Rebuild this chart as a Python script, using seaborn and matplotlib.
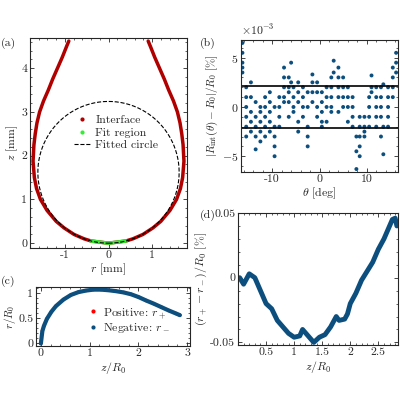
import numpy as np
import pandas as pd
import matplotlib
matplotlib.use("Agg")
import matplotlib.pyplot as plt
from matplotlib.lines import Line2D
from matplotlib.ticker import FormatStrFormatter, ScalarFormatter
import seaborn as sns

# ---- data ----
R0 = 1.62  # fitted circle radius [mm]
prof_z = [0, 0.05, 0.1, 0.2, 0.35, 0.5, 0.75, 1.0, 1.25, 1.5, 1.75, 2.0, 2.25,
          2.5, 2.75, 3.0, 3.25, 3.5, 3.75, 4.0, 4.25, 4.5, 4.62]
prof_r = [0, 0.4, 0.56, 0.79, 1.02, 1.2, 1.41, 1.56, 1.65, 1.7, 1.73, 1.73, 1.71,
          1.68, 1.64, 1.58, 1.49, 1.38, 1.28, 1.17, 1.06, 0.96, 0.91]
fit_rmax = 0.5

b_theta = ([-16.3]*5 + [-15.5]*6 + [-14.5]*5 + [-13.5]*5 + [-12.5]*5 + [-11.5]*5 +
           [-10.5]*5 + [-9.5]*5 + [-8.5]*4 + [-7.5]*5 + [-6.5]*5 + [-6]*2 + [-5.5]*4 +
           [-4.5]*5 + [-3.5]*4 + [-2.5]*5 + [-1.5]*4 + [-0.5]*4 + [0.5]*5 + [1.5]*4 +
           [2.5]*5 + [3]*2 + [4]*5 + [5]*4 + [6]*4 + [7]*4 + [7.8]*3 + [8.5]*5 +
           [9.5]*4 + [10.5]*4 + [11]*3 + [12]*5 + [13]*5 + [13.5]*3 + [14.5]*5 +
           [15.5]*4 + [16.2]*3)
b_val = [6.5, 5.5, 4.5, 4, 3.5,
         2, 1, 0, -1, -2, -3,
         2.5, 1, -0.5, -1.5, -2.5,
         0.5, -1, -2, -3, -4.3,
         -0.5, -1.5, -2.5, -3.5, 0,
         1, 0, -1, -2, -3,
         1.5, 0.5, -0.5, -1.5, -2.5,
         0, -2, -3, -4, -5,
         1, 0, -1, -2,
         4, 3, 2, 1, 0.5,
         3, 2, 1.5, 0.5, -1,
         4.5, 2.5,
         2, 1, 0, -0.5,
         2.5, 1.5, 0.5, -1.5, -2.5,
         2, 1, 0, -1,
         1.5, 0, -2, -3, -4,
         3.3, 2.5, 1.5, 0.5,
         2.5, 1.5, 0, -1,
         1.5, 0.5, -0.5, -1.5, -2,
         2, 1, 0, -1.5,
         3, 2, 1, 0, -0.5,
         4.7, 3.5,
         4, 3, 2, 1, -0.5,
         3, 2, 1, 0,
         2, 1, 0, -1.5,
         1, 0, -1, -2,
         -3, -4.5, -6.3,
         -1, -2, -3, -4, -5,
         -1, -2, -3, -2.5,
         1, 0, -1, -2,
         3.2, 2, 1.5,
         2, 1, 0, -1, -2,
         2, 1, 0, -1, -3,
         2.3, -2, -4.8,
         2, 1, 0, -1, -2,
         4, 3, 2, 1,
         5.5, 4.5, 3.5]
b_band = 2.1

d_z = [0.03, 0.1, 0.2, 0.3, 0.4, 0.5, 0.6, 0.7, 0.8, 0.9, 1.0, 1.1, 1.15, 1.25,
       1.35, 1.45, 1.55, 1.65, 1.75, 1.8, 1.9, 1.95, 2.0, 2.1, 2.2, 2.3, 2.4,
       2.5, 2.6, 2.7, 2.75, 2.8, 2.83]
d_val = [0.0, -0.005, 0.003, 0.0, -0.01, -0.02, -0.024, -0.033, -0.038, -0.043,
         -0.046, -0.045, -0.04, -0.045, -0.05, -0.046, -0.044, -0.038, -0.03,
         -0.033, -0.032, -0.028, -0.02, -0.012, -0.002, 0.005, 0.012, 0.022,
         0.03, 0.04, 0.045, 0.046, 0.04]

RED = "#b00000"
BLUE = "#0c4f7e"
GREEN = "#33ee33"

sns.set_style("ticks")
plt.rcParams["font.family"] = ["serif"]
plt.rcParams["font.serif"] = ["cmr10", "DejaVu Serif"]
plt.rcParams["mathtext.fontset"] = "cm"
plt.rcParams["axes.formatter.use_mathtext"] = True
plt.rcParams["font.size"] = 8.5
for k in ["xtick", "ytick"]:
    plt.rcParams[f"{k}.direction"] = "in"
    plt.rcParams[f"{k}.minor.visible"] = True
    plt.rcParams[f"{k}.major.pad"] = 2
plt.rcParams["xtick.top"] = True
plt.rcParams["ytick.right"] = True

fig = plt.figure(figsize=(4, 4), dpi=100)
ax_a = fig.add_axes([0.075, 0.38, 0.3925, 0.525])
ax_b = fig.add_axes([0.6025, 0.57, 0.3925, 0.33])
ax_c = fig.add_axes([0.09, 0.135, 0.385, 0.1475])
ax_d = fig.add_axes([0.595, 0.1375, 0.4, 0.33])

def dot(color, label):
    return Line2D([], [], ls="none", marker="o", ms=3, mew=0, color=color, label=label)

# (a) droplet profile
pz = np.array(prof_z)
pr = np.array(prof_r)
prof = pd.DataFrame({"r": np.concatenate([-pr[::-1], pr[1:]]),
                     "z": np.concatenate([pz[::-1], pz[1:]])})
sns.lineplot(data=prof, x="r", y="z", sort=False, color=RED, lw=2.5, ax=ax_a)
fit = prof[prof["r"].abs() <= fit_rmax]
sns.lineplot(data=fit, x="r", y="z", sort=False, color=GREEN, lw=2.5, ax=ax_a)
t = np.linspace(0, 2 * np.pi, 300)
circ = pd.DataFrame({"r": R0 * np.sin(t), "z": R0 - R0 * np.cos(t)})
sns.lineplot(data=circ, x="r", y="z", sort=False, color="black", lw=0.8,
             ls="--", ax=ax_a)
ax_a.set_xlim(-1.8, 1.8)
ax_a.set_ylim(-0.11, 4.69)
ax_a.set_xticks([-1, 0, 1])
ax_a.set_xlabel(r"$r$ [mm]", labelpad=1)
ax_a.set_ylabel(r"$z$ [mm]", labelpad=1)
ax_a.legend(handles=[dot(RED, "Interface"), dot(GREEN, "Fit region"),
                     Line2D([], [], color="black", lw=0.8, ls="--", label="Fitted circle")],
            loc="center", bbox_to_anchor=(0.55, 0.55), frameon=False,
            handlelength=1.4, handletextpad=0.4, labelspacing=0.2)

# (b) residuals
sns.scatterplot(x=np.array(b_theta), y=np.array(b_val) * 1e-3, color=BLUE,
                s=8, edgecolor="none", ax=ax_b)
ax_b.axhline(b_band * 1e-3, color="black", lw=1.2)
ax_b.axhline(-b_band * 1e-3, color="black", lw=1.2)
ax_b.set_xlim(-16.6, 16.6)
ax_b.set_ylim(-6.6e-3, 6.8e-3)
ax_b.set_xticks([-10, 0, 10])
ax_b.set_yticks([-5e-3, 0, 5e-3])
sf = ScalarFormatter(useMathText=True)
sf.set_powerlimits((0, 0))
ax_b.yaxis.set_major_formatter(sf)
ax_b.xaxis.set_major_formatter(FormatStrFormatter("%g"))
ax_b.set_xlabel(r"$\theta$ [deg]", labelpad=1)
ax_b.set_ylabel(r"$|R_{\rm int}(\theta)-R_0|/R_0$ [%]", labelpad=1, fontsize=8)

# (c) normalised branches
cz = pz / R0
cr = pr / R0
sns.scatterplot(x=cz, y=cr, color="red", s=6, edgecolor="none", ax=ax_c)
sns.lineplot(x=cz, y=cr, sort=False, color=BLUE, lw=3, ax=ax_c)
ax_c.set_xlim(-0.1, 3.06)
ax_c.set_ylim(-0.05, 1.12)
ax_c.set_xticks([0, 1, 2, 3])
ax_c.set_yticks([0, 0.5, 1])
ax_c.set_xlabel(r"$z/R_0$", labelpad=1)
ax_c.set_ylabel(r"$r/R_0$", labelpad=0, fontsize=8)
ax_c.legend(handles=[dot("red", r"Positive: $r_+$"), dot(BLUE, r"Negative: $r_-$")],
            loc="lower center", bbox_to_anchor=(0.6, 0.0), frameon=False,
            handlelength=1.0, handletextpad=0.4, labelspacing=0.1)

# (d) branch difference
sns.lineplot(x=d_z, y=d_val, color=BLUE, lw=3.5, ax=ax_d)
ax_d.set_xlim(0, 2.85)
ax_d.set_ylim(-0.052, 0.05)
ax_d.set_xticks([0.5, 1, 1.5, 2, 2.5])
ax_d.set_yticks([-0.05, 0, 0.05])
ax_d.set_xlabel(r"$z/R_0$", labelpad=1)
ax_d.set_ylabel(r"$(r_+-r_-)/R_0$ [%]", labelpad=1)

for ax in [ax_a, ax_c, ax_d]:
    ax.xaxis.set_major_formatter(FormatStrFormatter("%g"))
    ax.yaxis.set_major_formatter(FormatStrFormatter("%g"))
for ax in [ax_a, ax_b, ax_c, ax_d]:
    ax.tick_params(which="major", length=3, width=0.6)
    ax.tick_params(which="minor", length=1.5, width=0.5)
    for s in ax.spines.values():
        s.set_linewidth(0.8)

fig.text(0.003, 0.885, "(a)")
fig.text(0.5, 0.885, "(b)")
fig.text(0.003, 0.29, "(c)")
fig.text(0.5, 0.455, "(d)")

fig.savefig("out.png", dpi=100)
